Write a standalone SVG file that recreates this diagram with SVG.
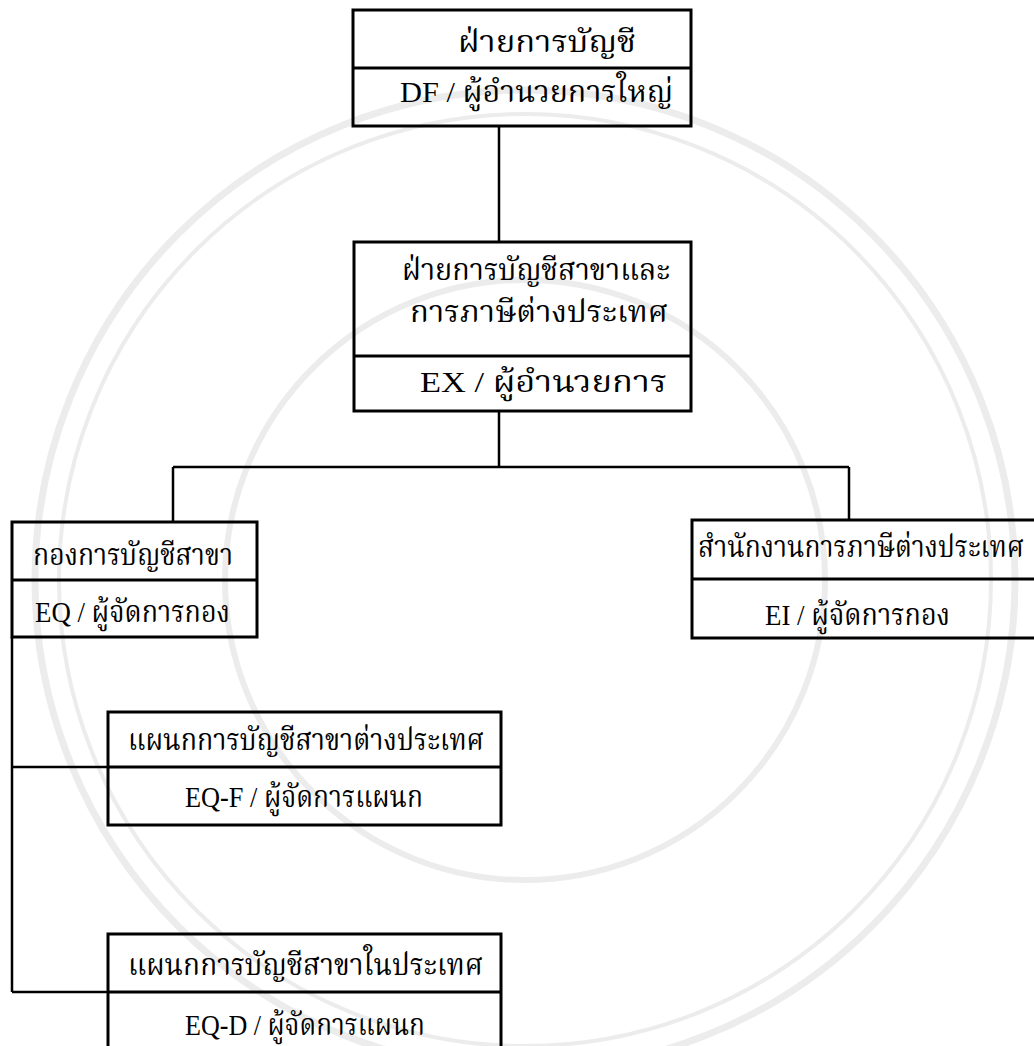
<svg xmlns="http://www.w3.org/2000/svg" width="1034" height="1046" viewBox="0 0 1034 1046">
<style>
.box{fill:none;stroke:#000;stroke-width:3}
.ln{fill:none;stroke:#000;stroke-width:2.5}
.t{font-family:"Liberation Serif","Norasi","Kinnari","Noto Serif Thai","Noto Sans Thai","Garuda","DejaVu Serif",serif;font-size:30px;fill:#000}
.wr{fill:none;stroke:#ececec}
</style>
<rect width="1034" height="1046" fill="#fff"/>
<g id="watermark">
<circle class="wr" cx="525" cy="580" r="490" stroke-width="7"/>
<circle class="wr" cx="525" cy="580" r="466" stroke-width="4"/>
<circle class="wr" cx="525" cy="580" r="300" stroke-width="6"/>
</g>
<g id="connectors">
<path class="ln" d="M499 126 V242"/>
<path class="ln" d="M499 411 V467 M173 467 H849 M173 467 V522 M849 467 V520"/>
<path class="ln" d="M12 637 V992 M12 767 H108 M12 992 H108"/>
</g>
<g id="n-df">
<rect class="box" x="353" y="10" width="338" height="116"/>
<line class="box" x1="353" y1="68" x2="691" y2="68"/>
<text class="t" x="458" y="52" textLength="178" lengthAdjust="spacingAndGlyphs">ฝ่ายการบัญชี</text>
<text class="t" x="400" y="102" textLength="273" lengthAdjust="spacingAndGlyphs">DF / ผู้อำนวยการใหญ่</text>
</g>
<g id="n-ex">
<rect class="box" x="354" y="242" width="337" height="169"/>
<line class="box" x1="354" y1="356" x2="691" y2="356"/>
<text class="t" x="402" y="280" textLength="268" lengthAdjust="spacingAndGlyphs">ฝ่ายการบัญชีสาขาและ</text>
<text class="t" x="410" y="322" textLength="258" lengthAdjust="spacingAndGlyphs">การภาษีต่างประเทศ</text>
<text class="t" x="420" y="392" textLength="247" lengthAdjust="spacingAndGlyphs">EX / ผู้อำนวยการ</text>
</g>
<g id="n-eq">
<rect class="box" x="12" y="522" width="245" height="115"/>
<line class="box" x1="12" y1="580" x2="257" y2="580"/>
<text class="t" x="33" y="565" textLength="200" lengthAdjust="spacingAndGlyphs">กองการบัญชีสาขา</text>
<text class="t" x="35" y="622" textLength="195" lengthAdjust="spacingAndGlyphs">EQ / ผู้จัดการกอง</text>
</g>
<g id="n-ei">
<rect class="box" x="692" y="520" width="360" height="118"/>
<line class="box" x1="692" y1="579" x2="1052" y2="579"/>
<text class="t" x="698" y="557" font-size="27" textLength="326" lengthAdjust="spacingAndGlyphs">สำนักงานการภาษีต่างประเทศ</text>
<text class="t" x="765" y="625" textLength="185" lengthAdjust="spacingAndGlyphs">EI / ผู้จัดการกอง</text>
</g>
<g id="n-eqf">
<rect class="box" x="108" y="712" width="393" height="113"/>
<line class="box" x1="108" y1="767" x2="501" y2="767"/>
<text class="t" x="128" y="750" textLength="356" lengthAdjust="spacingAndGlyphs">แผนกการบัญชีสาขาต่างประเทศ</text>
<text class="t" x="185" y="807" textLength="238" lengthAdjust="spacingAndGlyphs">EQ-F / ผู้จัดการแผนก</text>
</g>
<g id="n-eqd">
<rect class="box" x="108" y="934" width="393" height="130"/>
<line class="box" x1="108" y1="992" x2="501" y2="992"/>
<text class="t" x="128" y="975" textLength="355" lengthAdjust="spacingAndGlyphs">แผนกการบัญชีสาขาในประเทศ</text>
<text class="t" x="185" y="1035" textLength="240" lengthAdjust="spacingAndGlyphs">EQ-D / ผู้จัดการแผนก</text>
</g>
</svg>
